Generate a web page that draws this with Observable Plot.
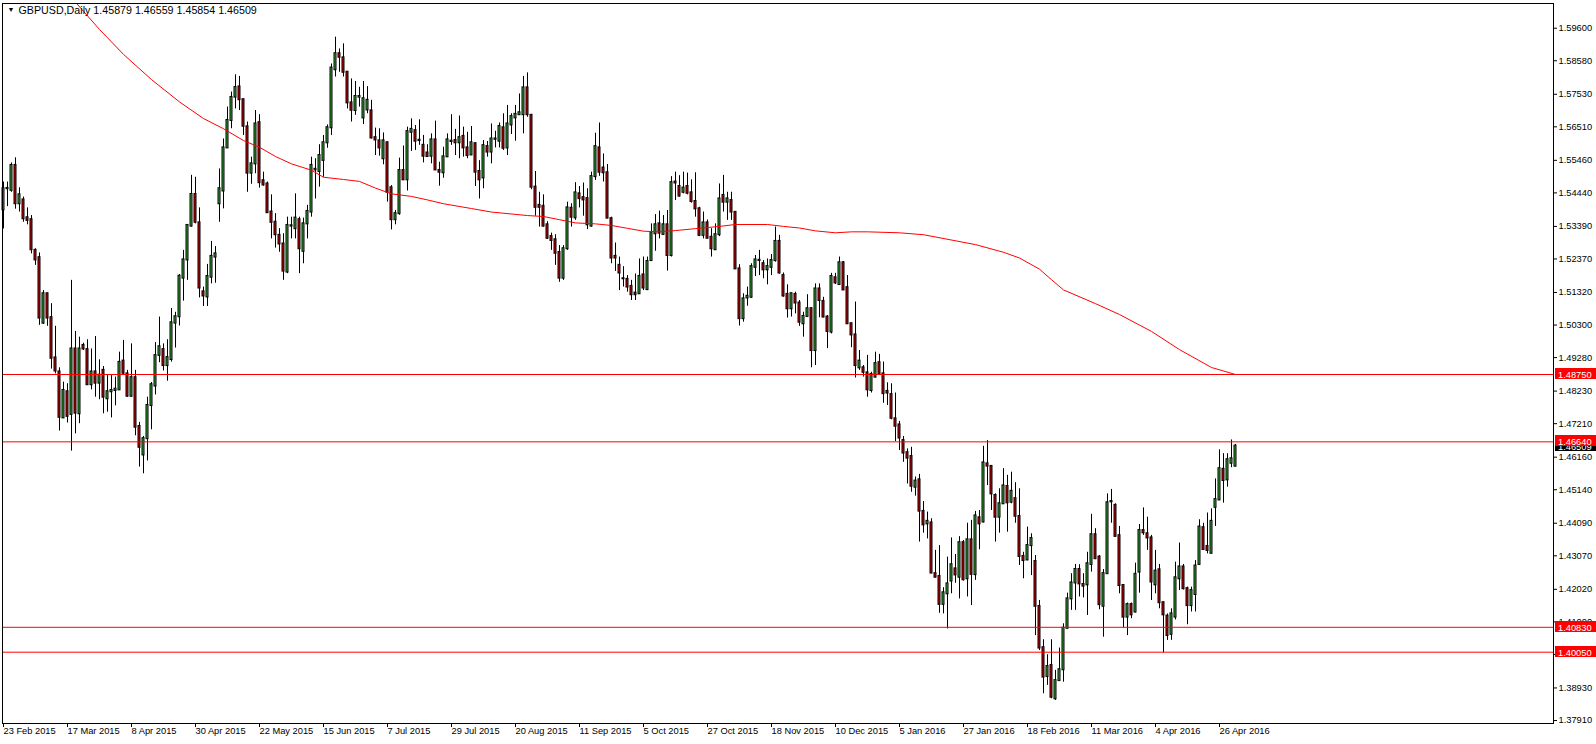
<!DOCTYPE html>
<html><head><meta charset="utf-8">
<script src="https://cdn.jsdelivr.net/npm/d3@7"></script>
<script src="https://cdn.jsdelivr.net/npm/@observablehq/plot@0.6"></script>
<style>
html,body{margin:0;padding:0;background:#fff;}
#chart svg{display:block;}
</style></head>
<body><div id="chart"></div>
<script>
const symbol = "GBPUSD,Daily";
const lastOHLC = [1.45879, 1.46559, 1.45854, 1.46509];

const dateLabels = ["23 Feb 2015","17 Mar 2015","8 Apr 2015","30 Apr 2015","22 May 2015","15 Jun 2015","7 Jul 2015","29 Jul 2015","20 Aug 2015","11 Sep 2015","5 Oct 2015","27 Oct 2015","18 Nov 2015","10 Dec 2015","5 Jan 2016","27 Jan 2016","18 Feb 2016","11 Mar 2016","4 Apr 2016","26 Apr 2016"];
const dateLabelBars = [0,16,32,48,64,80,96,112,128,144,160,176,192,208,224,240,256,272,288,304];

const priceTicks = [1.59600,1.58580,1.57530,1.56510,1.55460,1.54440,1.53390,1.52370,1.51320,1.50300,1.49280,1.48230,1.47210,1.46160,1.45140,1.44090,1.43070,1.42020,1.41000,1.39980,1.38930,1.37910];
const levels = [1.48750, 1.46640, 1.40830, 1.40050];

const opens = [
1.5391,1.5457,1.5452,1.5530,1.5410,1.5422,1.5366,1.5360,1.5264,1.5241,
1.5036,1.5128,1.5053,1.4927,1.4883,1.4739,1.4821,1.4750,1.4955,1.4752,
1.4966,1.4953,1.4843,1.4883,1.4848,1.4888,1.4799,1.4821,1.4825,1.4827,
1.4917,1.4877,1.4807,1.4865,1.4712,1.4623,1.4674,1.4778,1.4839,1.4935,
1.4953,1.4903,1.4922,1.5036,1.5056,1.5177,1.5234,1.5340,1.5439,1.5350,
1.5134,1.5118,1.5180,1.5243,1.5410,1.5450,1.5585,1.5671,1.5744,1.5776,
1.5736,1.5651,1.5506,1.5535,1.5664,1.5482,1.5472,1.5384,1.5352,1.5311,
1.5284,1.5196,1.5340,1.5332,1.5360,1.5261,1.5347,1.5384,1.5516,1.5511,
1.5546,1.5601,1.5648,1.5830,1.5880,1.5867,1.5822,1.5726,1.5702,1.5744,
1.5679,1.5704,1.5701,1.5617,1.5607,1.5551,1.5601,1.5460,1.5360,1.5379,
1.5514,1.5485,1.5634,1.5639,1.5608,1.5593,1.5569,1.5559,1.5610,1.5514,
1.5507,1.5557,1.5605,1.5608,1.5601,1.5621,1.5585,1.5563,1.5598,1.5511,
1.5491,1.5589,1.5572,1.5612,1.5606,1.5648,1.5585,1.5657,1.5679,1.5689,
1.5689,1.5773,1.5687,1.5462,1.5405,1.5402,1.5344,1.5307,1.5297,1.5257,
1.5177,1.5269,1.5396,1.5366,1.5441,1.5429,1.5426,1.5340,1.5495,1.5585,
1.5522,1.5507,1.5363,1.5245,1.5217,1.5175,1.5173,1.5151,1.5130,1.5128,
1.5187,1.5141,1.5232,1.5316,1.5347,1.5314,1.5344,1.5248,1.5478,1.5464,
1.5446,1.5464,1.5444,1.5417,1.5394,1.5311,1.5350,1.5305,1.5266,1.5313,
1.5436,1.5415,1.5420,1.5383,1.5206,1.5050,1.5115,1.5117,1.5211,1.5232,
1.5222,1.5203,1.5211,1.5232,1.5292,1.5185,1.5126,1.5081,1.5126,1.5099,
1.5034,1.5057,1.5081,1.4950,1.5143,1.5104,1.5055,1.5008,1.5178,1.5157,
1.5225,1.5147,1.5034,1.4999,1.4896,1.4896,1.4880,1.4825,1.4867,1.4912,
1.4877,1.4822,1.4812,1.4736,1.4717,1.4668,1.4630,1.4618,1.4522,1.4545,
1.4446,1.4407,1.4410,1.4251,1.4242,1.4155,1.4188,1.4228,1.4266,1.4240,
1.4348,1.4235,1.4357,1.4248,1.4426,1.4413,1.4595,1.4587,1.4496,1.4428,
1.4470,1.4524,1.4475,1.4486,1.4430,1.4305,1.4294,1.4339,1.4289,1.4148,
1.4019,1.3929,1.3963,1.3859,1.3916,1.3950,1.4080,1.4172,1.4222,1.4264,
1.4217,1.4216,1.4280,1.4373,1.4303,1.4149,1.4251,1.4476,1.4465,1.4370,
1.4214,1.4115,1.4154,1.4131,1.4256,1.4386,1.4376,1.4363,1.4216,1.4263,
1.4160,1.4118,1.4061,1.4115,1.4235,1.4272,1.4204,1.4151,1.4186,1.4280,
1.4395,1.4336,1.4315,1.4459,1.4482,1.4578,1.4545,1.4597,1.45879];

const highs = [
1.5478,1.5478,1.5538,1.5554,1.5460,1.5431,1.5397,1.5373,1.5269,1.5256,
1.5138,1.5129,1.5097,1.5026,1.4896,1.4851,1.4846,1.5170,1.5010,1.4992,
1.4973,1.4984,1.4955,1.4994,1.4921,1.4900,1.4872,1.4872,1.4867,1.4945,
1.4982,1.4888,1.4971,1.4888,1.4725,1.4681,1.4804,1.4850,1.4975,1.5055,
1.4971,1.4984,1.5082,1.5070,1.5188,1.5264,1.5345,1.5499,1.5493,1.5397,
1.5149,1.5220,1.5292,1.5276,1.5519,1.5613,1.5713,1.5760,1.5814,1.5809,
1.5737,1.5666,1.5556,1.5702,1.5689,1.5509,1.5478,1.5438,1.5379,1.5332,
1.5316,1.5368,1.5368,1.5441,1.5368,1.5365,1.5405,1.5556,1.5551,1.5595,
1.5624,1.5657,1.5848,1.5932,1.5895,1.5911,1.5824,1.5801,1.5793,1.5775,
1.5793,1.5777,1.5734,1.5647,1.5645,1.5632,1.5603,1.5467,1.5389,1.5553,
1.5591,1.5650,1.5676,1.5655,1.5673,1.5624,1.5595,1.5629,1.5669,1.5540,
1.5587,1.5629,1.5689,1.5643,1.5685,1.5650,1.5634,1.5652,1.5601,1.5545,
1.5608,1.5605,1.5660,1.5637,1.5663,1.5692,1.5718,1.5692,1.5718,1.5754,
1.5809,1.5820,1.5690,1.5511,1.5446,1.5438,1.5354,1.5318,1.5313,1.5279,
1.5279,1.5415,1.5410,1.5476,1.5464,1.5475,1.5457,1.5509,1.5631,1.5663,
1.5566,1.5533,1.5368,1.5287,1.5243,1.5213,1.5185,1.5170,1.5190,1.5237,
1.5243,1.5243,1.5347,1.5376,1.5387,1.5373,1.5389,1.5495,1.5509,1.5498,
1.5509,1.5506,1.5485,1.5507,1.5399,1.5384,1.5359,1.5332,1.5347,1.5472,
1.5499,1.5446,1.5446,1.5384,1.5219,1.5128,1.5149,1.5222,1.5248,1.5264,
1.5232,1.5237,1.5251,1.5337,1.5311,1.5193,1.5156,1.5130,1.5133,1.5107,
1.5070,1.5125,1.5084,1.5159,1.5159,1.5117,1.5060,1.5192,1.5192,1.5243,
1.5229,1.5185,1.5036,1.5102,1.4950,1.4903,1.4935,1.4882,1.4945,1.4938,
1.4914,1.4849,1.4846,1.4817,1.4728,1.4681,1.4642,1.4647,1.4554,1.4562,
1.4477,1.4444,1.4423,1.4324,1.4339,1.4207,1.4303,1.4363,1.4311,1.4367,
1.4355,1.4409,1.4418,1.4446,1.4449,1.4650,1.4668,1.4590,1.4501,1.4517,
1.4580,1.4559,1.4569,1.4536,1.4517,1.4318,1.4397,1.4376,1.4308,1.4167,
1.4044,1.3997,1.4044,1.3948,1.4018,1.4094,1.4190,1.4251,1.4280,1.4279,
1.4251,1.4318,1.4437,1.4392,1.4308,1.4264,1.4501,1.4515,1.4470,1.4399,
1.4217,1.4159,1.4159,1.4284,1.4405,1.4457,1.4428,1.4371,1.4324,1.4280,
1.4162,1.4125,1.4141,1.4287,1.4347,1.4280,1.4209,1.4209,1.4292,1.4420,
1.4409,1.4441,1.4454,1.4548,1.4639,1.4627,1.4627,1.4670,1.46559];

const lows = [
1.5331,1.5401,1.5446,1.5393,1.5384,1.5352,1.5344,1.5253,1.5217,1.5029,
1.5032,1.5026,1.4892,1.4877,1.4698,1.4738,1.4723,1.4635,1.4689,1.4721,
1.4950,1.4841,1.4827,1.4804,1.4796,1.4752,1.4757,1.4739,1.4777,1.4825,
1.4872,1.4804,1.4804,1.4683,1.4585,1.4564,1.4604,1.4702,1.4811,1.4912,
1.4886,1.4854,1.4914,1.4958,1.5027,1.5105,1.5170,1.5337,1.5347,1.5115,
1.5088,1.5088,1.5159,1.5161,1.5352,1.5394,1.5584,1.5645,1.5707,1.5702,
1.5624,1.5446,1.5471,1.5504,1.5459,1.5465,1.5381,1.5300,1.5271,1.5258,
1.5170,1.5191,1.5300,1.5300,1.5191,1.5222,1.5300,1.5368,1.5425,1.5462,
1.5493,1.5584,1.5624,1.5807,1.5822,1.5807,1.5707,1.5666,1.5687,1.5713,
1.5658,1.5692,1.5613,1.5561,1.5559,1.5532,1.5415,1.5328,1.5344,1.5374,
1.5483,1.5450,1.5574,1.5577,1.5593,1.5538,1.5556,1.5535,1.5514,1.5465,
1.5490,1.5556,1.5593,1.5561,1.5551,1.5556,1.5551,1.5561,1.5464,1.5425,
1.5457,1.5556,1.5535,1.5585,1.5585,1.5577,1.5561,1.5627,1.5606,1.5687,
1.5629,1.5681,1.5454,1.5371,1.5337,1.5337,1.5298,1.5264,1.5217,1.5164,
1.5170,1.5264,1.5337,1.5358,1.5397,1.5371,1.5329,1.5337,1.5483,1.5496,
1.5478,1.5363,1.5222,1.5198,1.5138,1.5149,1.5133,1.5107,1.5107,1.5126,
1.5138,1.5138,1.5229,1.5261,1.5300,1.5311,1.5199,1.5243,1.5420,1.5431,
1.5441,1.5438,1.5412,1.5368,1.5307,1.5300,1.5300,1.5243,1.5264,1.5307,
1.5384,1.5358,1.5358,1.5204,1.5027,1.5039,1.5089,1.5115,1.5182,1.5185,
1.5175,1.5156,1.5185,1.5227,1.5190,1.5117,1.5052,1.5055,1.5065,1.5026,
1.4992,1.5055,1.4896,1.4903,1.5053,1.5053,1.4956,1.5002,1.5157,1.5154,
1.5138,1.5032,1.4959,1.4864,1.4888,1.4867,1.4804,1.4817,1.4864,1.4875,
1.4785,1.4778,1.4733,1.4665,1.4637,1.4600,1.4532,1.4506,1.4494,1.4350,
1.4378,1.4360,1.4251,1.4238,1.4127,1.4125,1.4078,1.4188,1.4221,1.4172,
1.4228,1.4178,1.4151,1.4230,1.4326,1.4410,1.4527,1.4449,1.4350,1.4378,
1.4468,1.4381,1.4470,1.4409,1.4277,1.4235,1.4292,1.4245,1.4057,1.4010,
1.3875,1.3901,1.3859,1.3854,1.3914,1.3911,1.4078,1.4136,1.4136,1.4178,
1.4175,1.4120,1.4256,1.4295,1.4138,1.4052,1.4249,1.4409,1.4366,1.4188,
1.4081,1.4057,1.4110,1.4128,1.4190,1.4371,1.4324,1.4167,1.4188,1.4141,
1.4003,1.4042,1.4042,1.4106,1.4198,1.4200,1.4091,1.4131,1.4131,1.4277,
1.4324,1.4313,1.4313,1.4399,1.4480,1.4472,1.4522,1.4583,1.45854];

const closes = [
1.5457,1.5458,1.5530,1.5410,1.5438,1.5363,1.5358,1.5266,1.5234,1.5052,
1.5128,1.5052,1.4926,1.4886,1.4741,1.4825,1.4744,1.4955,1.4754,1.4955,
1.4955,1.4843,1.4883,1.4848,1.4873,1.4804,1.4821,1.4825,1.4829,1.4913,
1.4879,1.4807,1.4865,1.4710,1.4647,1.4674,1.4778,1.4843,1.4934,1.4962,
1.4903,1.4928,1.5037,1.5056,1.5183,1.5234,1.5342,1.5439,1.5352,1.5146,
1.5121,1.5182,1.5245,1.5253,1.5457,1.5585,1.5671,1.5743,1.5774,1.5736,
1.5653,1.5506,1.5535,1.5660,1.5476,1.5469,1.5382,1.5352,1.5313,1.5284,
1.5199,1.5342,1.5341,1.5365,1.5269,1.5347,1.5386,1.5530,1.5518,1.5561,
1.5601,1.5648,1.5835,1.5880,1.5869,1.5822,1.5726,1.5703,1.5746,1.5746,
1.5739,1.5734,1.5616,1.5610,1.5585,1.5607,1.5446,1.5360,1.5379,1.5514,
1.5485,1.5636,1.5643,1.5606,1.5609,1.5559,1.5558,1.5610,1.5516,1.5509,
1.5557,1.5610,1.5606,1.5601,1.5617,1.5585,1.5561,1.5601,1.5509,1.5485,
1.5592,1.5572,1.5613,1.5613,1.5652,1.5584,1.5660,1.5683,1.5690,1.5695,
1.5773,1.5689,1.5462,1.5399,1.5399,1.5340,1.5302,1.5295,1.5255,1.5177,
1.5269,1.5397,1.5368,1.5444,1.5426,1.5422,1.5344,1.5495,1.5589,1.5509,
1.5507,1.5365,1.5240,1.5240,1.5193,1.5175,1.5149,1.5125,1.5125,1.5182,
1.5146,1.5229,1.5319,1.5344,1.5318,1.5344,1.5248,1.5476,1.5475,1.5434,
1.5459,1.5443,1.5417,1.5394,1.5311,1.5350,1.5302,1.5269,1.5313,1.5425,
1.5415,1.5425,1.5384,1.5206,1.5050,1.5112,1.5120,1.5213,1.5234,1.5233,
1.5203,1.5213,1.5232,1.5292,1.5193,1.5121,1.5081,1.5128,1.5099,1.5039,
1.5057,1.5081,1.4950,1.5143,1.5107,1.5055,1.5010,1.5182,1.5162,1.5225,
1.5140,1.5034,1.4999,1.4903,1.4917,1.4882,1.4827,1.4875,1.4909,1.4877,
1.4815,1.4817,1.4738,1.4713,1.4676,1.4629,1.4613,1.4525,1.4541,1.4447,
1.4404,1.4415,1.4253,1.4240,1.4155,1.4191,1.4219,1.4279,1.4247,1.4348,
1.4232,1.4357,1.4249,1.4432,1.4407,1.4598,1.4588,1.4501,1.4428,1.4470,
1.4526,1.4473,1.4509,1.4431,1.4305,1.4292,1.4339,1.4361,1.4149,1.4018,
1.3927,1.3960,1.3864,1.3916,1.3950,1.4080,1.4172,1.4222,1.4264,1.4219,
1.4212,1.4282,1.4373,1.4298,1.4154,1.4251,1.4473,1.4477,1.4368,1.4214,
1.4115,1.4154,1.4122,1.4249,1.4386,1.4379,1.4363,1.4225,1.4259,1.4160,
1.4122,1.4057,1.4125,1.4238,1.4272,1.4204,1.4151,1.4198,1.4275,1.4397,
1.4327,1.4324,1.4415,1.4483,1.4580,1.4543,1.4608,1.4611,1.46509];

// 200-day moving average, read at sampled bars
const maBars = [16,24,30,37,44,50,55,60,64,68,72,77,80,85,89,93,97,102,106,110,117,122,131,135,139,143,148,152,156,160,164,168,173,179,183,191,195,199,203,208,212,216,224,230,243,250,254,259,262,265,273,279,287,294,302,308];
const maValues = [1.6070,1.5956,1.5878,1.5799,1.5729,1.5677,1.5645,1.5608,1.5587,1.5558,1.5535,1.5515,1.5493,1.5486,1.5480,1.5459,1.5441,1.5433,1.5422,1.5410,1.5395,1.5384,1.5373,1.5370,1.5360,1.5350,1.5347,1.5342,1.5333,1.5324,1.5322,1.5326,1.5332,1.5339,1.5345,1.5345,1.5339,1.5334,1.5325,1.5319,1.5322,1.5322,1.5319,1.5313,1.5282,1.5258,1.5240,1.5205,1.5172,1.5140,1.5097,1.5063,1.5010,1.4953,1.4897,1.4875];

const W = 1596, H = 744;
const FONT = "'Liberation Sans', Arial, sans-serif";
const bull = "#30b030", bear = "#e00000";

const bars = opens.map((o, i) => ({i, o, h: highs[i], l: lows[i], c: closes[i]}));
const ma = maBars.map((b, k) => ({i: b, v: maValues[k]}));
const labelOf = new Map(dateLabelBars.map((b, k) => [b, dateLabels[k]]));

const chart = Plot.plot({
  width: W, height: H,
  marginLeft: 2, marginRight: 43, marginTop: 3, marginBottom: 21,
  x: {type: "linear", domain: [-0.25, 387.5]},
  y: {type: "linear", domain: [1.37816, 1.60374]},
  style: {fontFamily: FONT, fontSize: "9.3px", background: "#fff", color: "#000", overflow: "visible"},
  marks: [
    Plot.ruleX(bars, {x: "i", y1: "l", y2: "h", stroke: "#000", strokeWidth: 1}),
    Plot.rect(bars, {x1: d => d.i - 0.25, x2: d => d.i + 0.25, y1: "o", y2: "c",
      fill: d => d.c >= d.o ? bull : bear, stroke: "#000", strokeWidth: 1, insetTop: -0.5, insetBottom: -0.5}),
    Plot.line(ma, {x: "i", y: "v", stroke: "#ff0000", strokeWidth: 1, clip: true}),
    Plot.ruleY(levels, {stroke: "#ff0000", strokeWidth: 1}),
    Plot.frame({stroke: "#000"}),
    Plot.axisY({anchor: "right", ticks: priceTicks, tickFormat: d => d.toFixed(5), tickSize: 3, tickPadding: 2, label: null, fill: "#000"}),
    Plot.axisX({anchor: "bottom", ticks: dateLabelBars, tickFormat: d => labelOf.get(d), tickSize: 4, tickPadding: 0, textAnchor: "start", label: null, fill: "#000"}),
    Plot.text(["▼"], {frameAnchor: "top-left", dx: 5, dy: 4, fontSize: 7, textAnchor: "start", lineAnchor: "top", fill: "#000"}),
    Plot.text([symbol + " " + lastOHLC.map(v => v.toFixed(5)).join(" ")], {frameAnchor: "top-left", dx: 16, dy: 2.5, fontSize: 10.7, textAnchor: "start", lineAnchor: "top", fill: "#000"})
  ]
});

document.getElementById("chart").appendChild(chart);

// price labels on the right scale
const svg = d3.select(chart);
const ys = chart.scale("y");
const boxX = W - 43 + 2;
function priceLabel(v, bg) {
  const y = Math.round(ys.apply(v));
  svg.append("rect").attr("x", boxX).attr("y", y - 6).attr("width", W - boxX).attr("height", 11).attr("fill", bg);
  svg.append("text").attr("x", boxX + 3).attr("y", y + 3.5).attr("fill", "#fff")
    .attr("text-anchor", "start")
    .attr("font-family", FONT).attr("font-size", "9.3px").text(v.toFixed(5));
}
priceLabel(lastOHLC[3], "#000");
levels.forEach(v => priceLabel(v, "#ff0000"));
</script>
</body></html>
